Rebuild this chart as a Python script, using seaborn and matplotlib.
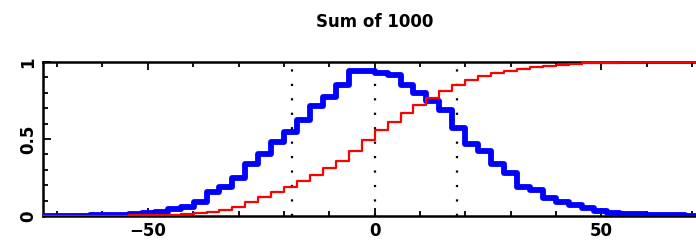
import numpy as np
import pandas as pd
import matplotlib
matplotlib.use("Agg")
import matplotlib.pyplot as plt
import seaborn as sns
from matplotlib.ticker import MultipleLocator

# bin edges of the histogram (53 edges -> 52 bins)
bin_edges = [-74.1, -71.25, -68.4, -65.55, -62.7, -59.85, -57.0, -54.15, -51.3,
             -48.45, -45.6, -42.75, -39.9, -37.05, -34.2, -31.35, -28.5, -25.65,
             -22.8, -19.95, -17.1, -14.25, -11.4, -8.55, -5.7, -2.85, 0.0, 2.85,
             5.7, 8.55, 11.4, 14.25, 17.1, 19.95, 22.8, 25.65, 28.5, 31.35, 34.2,
             37.05, 39.9, 42.75, 45.6, 48.45, 51.3, 54.15, 57.0, 59.85, 62.7,
             65.55, 68.4, 71.25, 74.1]

# normalised histogram (peak ~ 1)
hist_vals = [0.002, 0.002, 0.003, 0.003, 0.004, 0.006, 0.008, 0.012, 0.018,
             0.025, 0.045, 0.06, 0.09, 0.155, 0.19, 0.245, 0.335, 0.405, 0.48,
             0.545, 0.625, 0.715, 0.775, 0.85, 0.94, 0.94, 0.925, 0.915, 0.85,
             0.80, 0.745, 0.69, 0.57, 0.47, 0.42, 0.34, 0.28, 0.19, 0.17, 0.115,
             0.093, 0.07, 0.05, 0.035, 0.02, 0.015, 0.012, 0.008, 0.006, 0.004,
             0.003, 0.002]

# cumulative fraction
cum_vals = [0.0, 0.0, 0.001, 0.001, 0.001, 0.002, 0.003, 0.004, 0.005, 0.007,
            0.009, 0.012, 0.018, 0.028, 0.04, 0.06, 0.09, 0.125, 0.158, 0.19,
            0.225, 0.266, 0.31, 0.355, 0.42, 0.49, 0.555, 0.61, 0.665, 0.72,
            0.765, 0.81, 0.85, 0.885, 0.905, 0.925, 0.94, 0.955, 0.965, 0.973,
            0.98, 0.985, 0.99, 0.993, 0.995, 0.997, 0.998, 0.999, 1.0, 1.0,
            1.0, 1.0]

sigma_marks = [-18.26, 0.0, 18.26]
title_text = "Sum of 1000"

sns.set_theme(style="ticks")
plt.rcParams['font.family'] = ['DejaVu Sans']

fig = plt.figure(figsize=(6.96, 2.42), dpi=100)
ax = fig.add_axes([0.0618, 0.1074, 0.953, 0.637])

# step curves: repeat the last value so the final bin gets drawn
hist_df = pd.DataFrame({'x': bin_edges, 'y': hist_vals + [hist_vals[-1]]})
cum_df = pd.DataFrame({'x': bin_edges, 'y': cum_vals + [cum_vals[-1]]})

sns.lineplot(data=hist_df, x='x', y='y', ax=ax, color='#0000ff', lw=4.2,
             drawstyle='steps-post', estimator=None, zorder=3)
sns.lineplot(data=cum_df, x='x', y='y', ax=ax, color='#ff0000', lw=1.6,
             drawstyle='steps-post', estimator=None, zorder=4)

for xm in sigma_marks:
    ax.axvline(xm, color='black', lw=1.6, linestyle=(0, (1, 5.5)), zorder=2)

ax.set_xlim(-73.1, 73.1)
ax.set_ylim(0, 1)
ax.xaxis.set_minor_locator(MultipleLocator(10))
ax.yaxis.set_minor_locator(MultipleLocator(0.1))
ax.set_xticks([-50, 0, 50])
ax.set_xticklabels(['\u221250', '0', '50'])
ax.set_yticks([0, 0.5, 1])
ax.set_yticklabels(['0', '0.5', '1'], rotation=90, va='center')

ax.tick_params(which='both', direction='in', top=True, right=True,
               labelsize=12, width=1.3, color='black', labelcolor='black')
ax.tick_params(which='major', length=6, pad=4)
ax.tick_params(which='minor', length=3.5)
for lab in ax.get_xticklabels() + ax.get_yticklabels():
    lab.set_fontweight('bold')

for sp in ax.spines.values():
    sp.set_linewidth(1.8)
    sp.set_color('black')

ax.set_xlabel('')
ax.set_ylabel('')
ax.set_title(title_text, fontsize=12, fontweight='bold', color='black', pad=25)

fig.savefig('out.png', dpi=100, facecolor='white')
plt.close(fig)
